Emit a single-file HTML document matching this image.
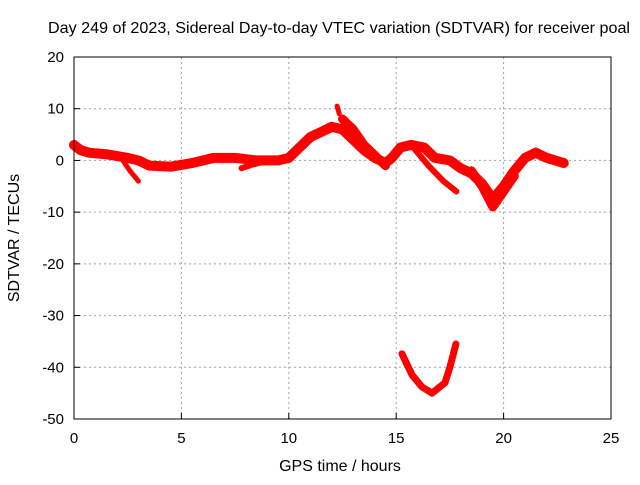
<!DOCTYPE html>
<html><head><meta charset="utf-8"><style>
body{margin:0;background:#fff}
svg text{font-family:"Liberation Sans",sans-serif;font-size:14px;fill:#000}
</style></head><body>
<svg width="640" height="480">
<text x="339" y="33" text-anchor="middle" textLength="582" lengthAdjust="spacingAndGlyphs" style="font-size:16px">Day 249 of 2023, Sidereal Day-to-day VTEC variation (SDTVAR) for receiver poal</text>
<g id="grid"></g>
<g id="series"></g>
<rect x="74" y="57" width="537" height="362" fill="none" stroke="#000"/>
<g id="ticks"></g>
<text x="340" y="471" text-anchor="middle" style="font-size:16px">GPS time / hours</text>
<text transform="translate(19,238) rotate(-90)" text-anchor="middle" style="font-size:16px">SDTVAR / TECUs</text>
</svg>
<script>
const xTicks=[0,5,10,15,20,25];
const yTicks=[20,10,0,-10,-20,-30,-40,-50];
const mainH=[0,0.3,0.7,1.5,2.5,3,3.5,4.5,5.5,6.5,7.5,8.5,9.5,10,10.5,11,11.5,12,12.5,13,13.5,14,14.5,14.8,15.2,15.7,16.3,16.8,17.5,18,18.5,19,19.5,20,20.5,21,21.5,22,22.8];
const mainV=[3,2,1.5,1.2,0.5,0,-1,-1.2,-0.5,0.5,0.5,0,0,0.5,2.5,4.5,5.5,6.5,6,4,2,0.5,-0.5,0.5,2.5,3,2.5,0.5,0,-1.5,-2.5,-4.5,-7.5,-5,-2,0.5,1.5,0.5,-0.5];
const br1H=[2.2,2.6,3];const br1V=[0.5,-2,-4];
const br2H=[7.8,8.3,8.8];const br2V=[-1.5,-0.8,-0.3];
const br3H=[12.5,13,13.5,14,14.5];const br3V=[8,6,3,1,-1];
const br4H=[15.7,16.5,17.2,17.8];const br4V=[3,-1,-4,-6];
const br5H=[18.5,19,19.5,20,20.5];const br5V=[-2,-5,-9,-6,-3];
const lowH=[15.27,15.74,16.2,16.67,17.27,17.5,17.78];const lowV=[-37.4,-41.5,-43.8,-45,-43,-40,-35.5];
const spikeH=[12.25,12.35];const spikeV=[10.5,9];
const sx=h=>74+h*537/25, sy=v=>57+(20-v)*362/70;
const NS='http://www.w3.org/2000/svg';
function mk(tag,attrs,parent){const e=document.createElementNS(NS,tag);for(const k in attrs)e.setAttribute(k,attrs[k]);parent.appendChild(e);return e;}
const grid=document.getElementById('grid'),ticks=document.getElementById('ticks'),ser=document.getElementById('series');
xTicks.forEach(t=>{const x=sx(t);
 if(t>0&&t<25){const g=mk('line',{x1:x,x2:x,y1:57,y2:419,stroke:'#a0a0a0','stroke-dasharray':'2,3'},grid);
 }
 const l=mk('line',{x1:x,x2:x,y1:419,y2:413,stroke:'#000'},ticks);
 
 const tx=mk('text',{x:x,y:443,'text-anchor':'middle',style:'font-size:15px'},ticks);tx.textContent=t;
 });
yTicks.forEach(t=>{const y=sy(t);
 if(t<20&&t>-50){const g=mk('line',{x1:74,x2:611,y1:y,y2:y,stroke:'#a0a0a0','stroke-dasharray':'2,3'},grid);
 }
 const l=mk('line',{x1:74,x2:80,y1:y,y2:y,stroke:'#000'},ticks);
 
 const tx=mk('text',{x:64,y:y+5,'text-anchor':'end',style:'font-size:15px'},ticks);tx.textContent=t;
 });
function draw(H,V,w,name){const pts=H.map((h,i)=>sx(h)+','+sy(V[i])).join(' ');
 const p=mk('polyline',{points:pts,fill:'none',stroke:'#ff0000','stroke-width':w,'stroke-linejoin':'round','stroke-linecap':'round'},ser);
 }
draw(mainH,mainV,10,'sdtvar-main-band');
draw(br1H,br1V,5,'sdtvar-branch-1');
draw(br2H,br2V,6,'sdtvar-branch-2');
draw(br3H,br3V,9,'sdtvar-branch-3');
draw(br4H,br4V,6,'sdtvar-branch-4');
draw(br5H,br5V,9,'sdtvar-branch-5');
draw(lowH,lowV,7,'sdtvar-low-arc');
draw(spikeH,spikeV,5,'sdtvar-spike');
</script>
</body></html>
